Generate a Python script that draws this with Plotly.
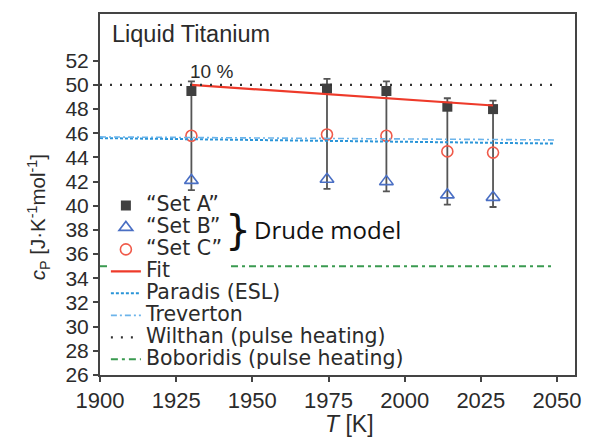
import plotly.graph_objects as go

# Temperatures [K]
temps = [1930, 1974.5, 1994, 2014, 2029]
set_a = [49.5, 49.7, 49.5, 48.2, 48.0]
set_b = [42.1, 42.2, 42.0, 40.9, 40.7]
set_c = [45.8, 45.9, 45.8, 44.5, 44.4]
err_up = [0.8, 0.8, 0.8, 0.7, 0.7]
err_low_b = [0.8, 0.8, 0.8, 0.8, 0.8]   # below set B

fit_t = [1930, 2029]
fit_cp = [50.0, 48.3]

ref_t = [1900, 2049]
paradis_cp = [45.6, 45.15]
treverton_cp = [45.7, 45.45]
wilthan_cp = [50.0, 50.0]
boboridis_t = [1900, 1903, None, 1943, 2049]
boboridis_cp = [35.0, 35.0, None, 35.0, 35.0]

y_ticks = list(range(26, 53, 2))
x_ticks = [1900, 1925, 1950, 1975, 2000, 2025, 2050]

FONT = "Liberation Sans, Arial, sans-serif"
TXT = "#2b2b2b"


def leg(name):
    # big legend text, small base font keeps rows tight
    return f'<span style="font-size:20.5px;font-family:DejaVu Sans">{name}</span>'


fig = go.Figure()

# "Set A" with error bars running down past set B
err_minus = [a - b + e for a, b, e in zip(set_a, set_b, err_low_b)]
fig.add_trace(go.Scatter(
    x=temps, y=set_a, mode="markers", name=leg("\u201cSet A\u201d"),
    marker=dict(symbol="square", size=10, color="#404040"),
    error_y=dict(type="data", symmetric=False, array=err_up, arrayminus=err_minus,
                 color="#555555", thickness=1.8, width=3.5),
))
fig.add_trace(go.Scatter(
    x=temps, y=set_b, mode="markers", name=leg("\u201cSet B\u201d"),
    marker=dict(symbol="triangle-up-open", size=12, color="#4a6fc4", line=dict(width=1.6)),
))
fig.add_trace(go.Scatter(
    x=temps, y=set_c, mode="markers", name=leg("\u201cSet C\u201d"),
    marker=dict(symbol="circle-open", size=11, color="#f05a4a", line=dict(width=1.6)),
))
fig.add_trace(go.Scatter(x=fit_t, y=fit_cp, mode="lines", name=leg("Fit"),
                         line=dict(color="#ee3a2a", width=2.2)))
fig.add_trace(go.Scatter(x=ref_t, y=paradis_cp, mode="lines", name=leg("Paradis (ESL)"),
                         line=dict(color="#2a95d8", width=2, dash="3px,2px")))
fig.add_trace(go.Scatter(x=ref_t, y=treverton_cp, mode="lines", name=leg("Treverton"),
                         line=dict(color="#6cb4ea", width=1.6, dash="6px,3px,2px,3px")))
fig.add_trace(go.Scatter(x=ref_t, y=wilthan_cp, mode="lines", name=leg("Wilthan (pulse heating)"),
                         line=dict(color="#333333", width=2.2, dash="2px,8px")))
fig.add_trace(go.Scatter(x=boboridis_t, y=boboridis_cp, mode="lines",
                         name=leg("Boboridis (pulse heating)"),
                         line=dict(color="#3a9a50", width=2, dash="7px,4px,3px,4px"),
                         connectgaps=False))

fig.add_annotation(x=0.021, y=0.985, xref="paper", yref="paper", text="Liquid Titanium",
                   showarrow=False, xanchor="left", yanchor="top",
                   font=dict(family=FONT, size=23.5, color=TXT))
fig.add_annotation(x=1929, y=50.1, text="10 %", showarrow=False, xanchor="left", yanchor="bottom",
                   font=dict(family=FONT, size=19, color=TXT))
fig.add_annotation(x=1945.4, y=38.0, text="}", showarrow=False, xanchor="center", yanchor="middle",
                   font=dict(family="DejaVu Sans", size=41, color="#111111"))
fig.add_annotation(x=1950, y=38.0, text="Drude model", showarrow=False, xanchor="left",
                   yanchor="middle", font=dict(family="Open Sans", size=24, color="#111111"))

# axis titles (placed off-centre as in the original)
fig.add_annotation(x=-0.1305, y=39.05, xref="paper", yref="y", textangle=-90,
                   text="<i>c</i><sub>P</sub> [J·K<sup>-1</sup>mol<sup>-1</sup>]",
                   showarrow=False, xanchor="center", yanchor="middle",
                   font=dict(family=FONT, size=20.5, color=TXT))
fig.add_annotation(x=0.526, y=-0.135, xref="paper", yref="paper", text="<i>T</i> [K]",
                   showarrow=False, xanchor="center", yanchor="middle",
                   font=dict(family=FONT, size=23, color=TXT))

# page body adds an 8px offset, so the figure is 8px smaller
fig.update_layout(
    width=590, height=429,
    margin=dict(l=92, r=23, t=4, b=62),
    paper_bgcolor="#ffffff", plot_bgcolor="#ffffff",
    font=dict(family=FONT, size=20, color=TXT),
    showlegend=True,
    legend=dict(x=0.0124, y=0.514, xanchor="left", yanchor="top", bgcolor="rgba(0,0,0,0)",
                font=dict(family=FONT, size=14.6, color=TXT), tracegroupgap=0,
                itemwidth=30),
)
fig.update_xaxes(range=[1900, 2055.9], tickvals=x_ticks, ticks="outside", ticklen=5,
                 tickcolor="#444444", tickwidth=1.5, tickfont=dict(size=22),
                 showline=True, linecolor="#444444", linewidth=2, mirror=True,
                 showgrid=False, zeroline=False)
fig.update_yaxes(range=[26, 55.87], tickvals=y_ticks, ticks="outside", ticklen=5,
                 tickcolor="#444444", tickwidth=1.5, tickfont=dict(size=21),
                 showline=True, linecolor="#444444", linewidth=2, mirror=True,
                 showgrid=False, zeroline=False)

fig.write_html("out.html")
